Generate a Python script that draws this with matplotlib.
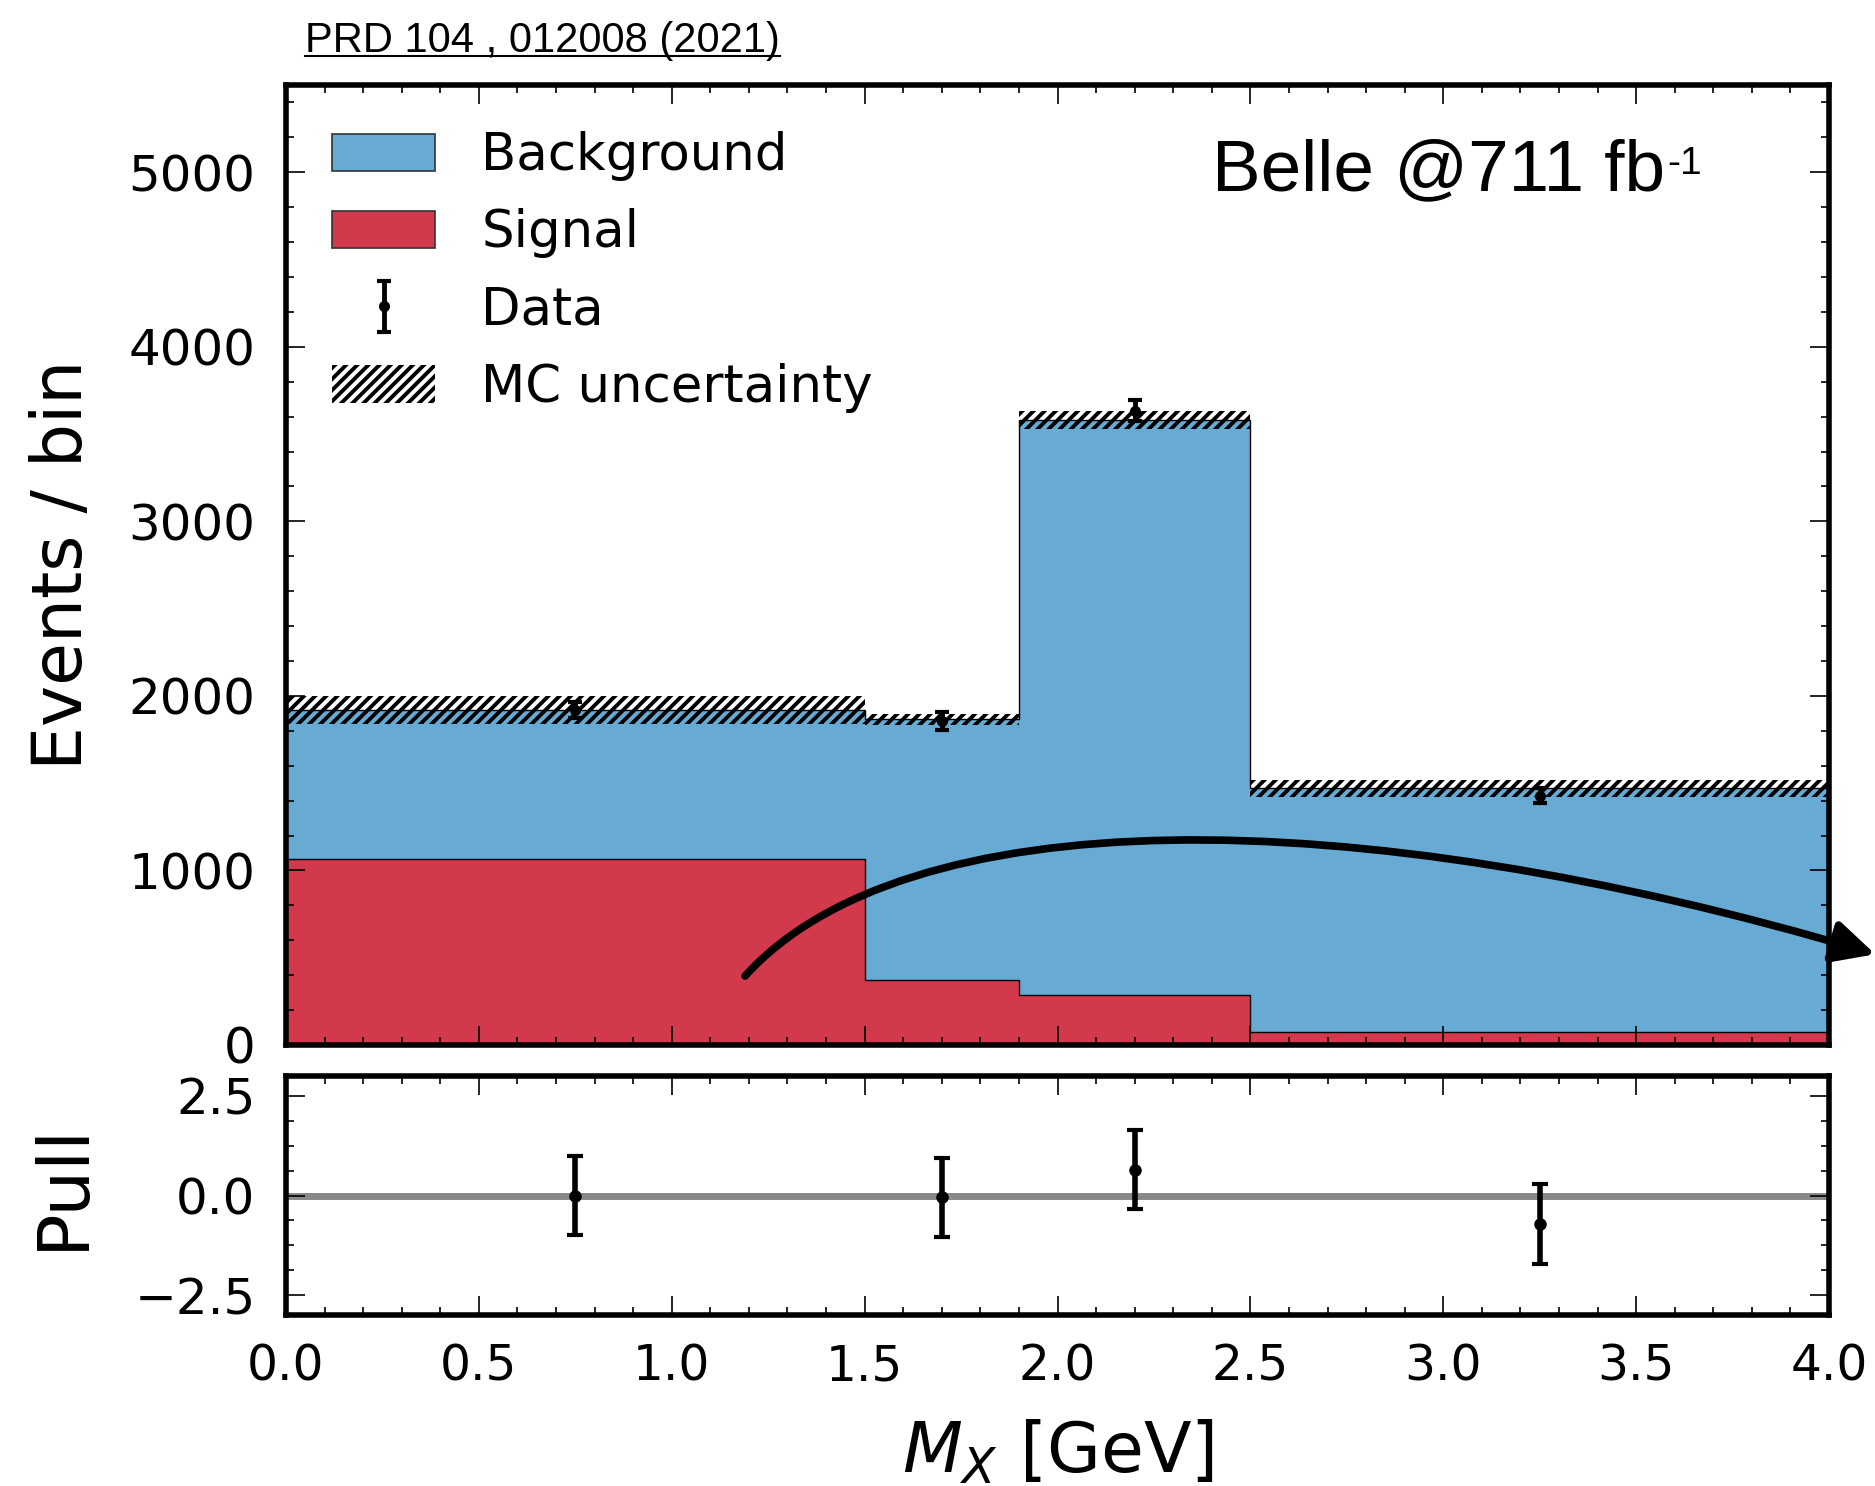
import numpy as np
import matplotlib
matplotlib.use("Agg")
import matplotlib.pyplot as plt
from matplotlib.ticker import MultipleLocator, AutoMinorLocator
from matplotlib.patches import FancyArrowPatch, Patch
from matplotlib.path import Path
from matplotlib.lines import Line2D

# ---------------- data ----------------
bin_edges = [0.0, 1.5, 1.9, 2.5, 4.0]
signal = [1065, 370, 286, 72]
background = [855, 1495, 3294, 1398]
mc_unc = [80, 33, 50, 48]
data_x = [0.75, 1.7, 2.2, 3.25]
data_y = [1920, 1857, 3633, 1427]
data_err = [45, 50, 60, 43]
pull = [0.0, -0.05, 0.65, -0.72]
pull_err = [1.0, 1.0, 1.0, 1.0]
main_yticks = [0, 1000, 2000, 3000, 4000, 5000]
pull_yticks = [-2.5, 0.0, 2.5]
x_ticks = [0.0, 0.5, 1.0, 1.5, 2.0, 2.5, 3.0, 3.5, 4.0]
# annotation arrow control points (data coords)
arrow_x = [1.19, 1.6, 2.75, 4.12]
arrow_y = [395, 1400, 1420, 520]

BLUE = "#67abd5"
RED = "#d3394c"

plt.rcParams["font.family"] = ["DejaVu Sans"]
plt.rcParams["hatch.linewidth"] = 2.8

W, H = 1875, 1486
fig = plt.figure(figsize=(W / 100, H / 100), dpi=100)

def fx(px):
    return px / W

def fy(py):
    return 1 - py / H

L, R = 286, 1829
ax = fig.add_axes([fx(L), fy(1045), fx(R) - fx(L), fy(85) - fy(1045)])
axp = fig.add_axes([fx(L), fy(1315), fx(R) - fx(L), fy(1076) - fy(1315)], sharex=ax)

edges = np.array(bin_edges)
sig = np.array(signal, dtype=float)
bkg = np.array(background, dtype=float)
tot = sig + bkg
unc = np.array(mc_unc, dtype=float)
widths = np.diff(edges)

# stacked histogram
ax.stairs(tot, edges, baseline=sig, fill=True, color=BLUE, zorder=1)
ax.stairs(sig, edges, baseline=0, fill=True, color=RED, zorder=1)
ax.stairs(tot, edges, baseline=0, fill=False, color="k", lw=1.0, zorder=2)
ax.stairs(sig, edges, baseline=None, color="k", lw=1.0, zorder=2)

# MC uncertainty hatch
ax.bar(edges[:-1], 2 * unc, bottom=tot - unc, width=widths, align="edge",
       fill=False, hatch="///", edgecolor="black", linewidth=0, zorder=3)

# data
eb = ax.errorbar(data_x, data_y, yerr=data_err, fmt="o", color="black", ms=7,
                 elinewidth=3.5, capsize=5, capthick=3, zorder=4)

# legend
handles = [
    Patch(facecolor=BLUE, edgecolor="#333333", linewidth=1.2),
    Patch(facecolor=RED, edgecolor="#333333", linewidth=1.2),
    eb,
    Patch(facecolor="none", edgecolor="black", hatch="///", linewidth=0),
]
labels = ["Background", "Signal", "Data", "MC uncertainty"]
ax.legend(handles, labels, loc="upper left", fontsize=37, frameon=False,
          handlelength=2.0, handleheight=0.75, handletextpad=0.9,
          labelspacing=0.53, borderpad=0.4, borderaxespad=0.5)

ax.set_xlim(0, 4.0)
ax.set_ylim(0, 5500)
ax.set_yticks(main_yticks)
ax.yaxis.set_minor_locator(AutoMinorLocator(5))
ax.xaxis.set_major_locator(MultipleLocator(0.5))
ax.xaxis.set_minor_locator(AutoMinorLocator(5))
ax.set_ylabel("Events / bin", fontsize=50)
ax.yaxis.set_label_coords(-0.123, 0.5)

# pull panel
axp.axhline(0.0, color="#888888", lw=5, zorder=1)
axp.errorbar(data_x, pull, yerr=pull_err, fmt="o", color="black", ms=8,
             elinewidth=4, capsize=6, capthick=3, zorder=3)
axp.set_ylim(-3.0, 3.0)
axp.set_yticks(pull_yticks)
axp.set_yticklabels(["2.5" if v > 0 else ("0.0" if v == 0 else "\u22122.5") for v in pull_yticks])
axp.yaxis.set_minor_locator(AutoMinorLocator(4))
axp.set_xticks(x_ticks)
axp.set_xticklabels([f"{v:.1f}" for v in x_ticks])
axp.set_ylabel("Pull", fontsize=52)
axp.yaxis.set_label_coords(-0.122, 0.54)
axp.set_xlabel(r"$M_X$ [GeV]", fontsize=50, labelpad=20)

for a in (ax, axp):
    for s in a.spines.values():
        s.set_linewidth(4)
    a.tick_params(which="both", direction="in", top=True, right=True)
    a.tick_params(which="major", length=14, width=1.2, pad=22)
    a.tick_params(which="minor", length=6, width=1.2)
    a.tick_params(axis="y", labelsize=36)
    a.tick_params(axis="x", labelsize=35)
ax.tick_params(labelbottom=False)
axp.tick_params(axis="x", pad=20)

# annotation arrow
verts = list(zip(arrow_x, arrow_y))
path = Path(verts, [Path.MOVETO, Path.CURVE4, Path.CURVE4, Path.CURVE4])
arr = FancyArrowPatch(path=path, arrowstyle="-|>,head_length=0.9,head_width=0.45",
                      mutation_scale=28, lw=5.5, color="black",
                      transform=ax.transData, clip_on=False, zorder=6)
ax.add_patch(arr)

# Belle label
tb = fig.text(fx(1212), fy(190), "Belle @711 fb", fontsize=52.5,
              family=["Liberation Sans", "DejaVu Sans"], va="baseline", ha="left")
# title reference
tt = fig.text(fx(305), fy(52), "PRD 104 , 012008 (2021)", fontsize=30,
              family=["Liberation Sans", "DejaVu Sans"], va="baseline", ha="left")

fig.canvas.draw()
r = fig.canvas.get_renderer()
bb = tb.get_window_extent(r)
fig.text(bb.x1 / W + 0.001, fy(146), "-1", fontsize=28,
         family=["Liberation Sans", "DejaVu Sans"], va="top", ha="left")
bt = tt.get_window_extent(r)
fig.add_artist(Line2D([bt.x0 / W, bt.x1 / W], [fy(56), fy(56)],
                      transform=fig.transFigure, color="black", lw=1.5))

fig.savefig("out.png", dpi=100)
